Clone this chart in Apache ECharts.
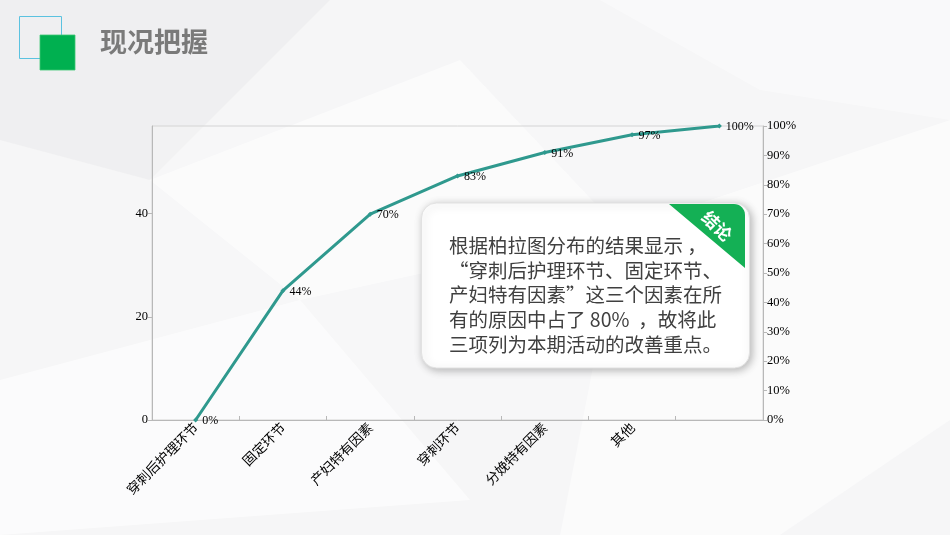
<!DOCTYPE html>
<html>
<head>
<meta charset="utf-8">
<script src="https://cdn.jsdelivr.net/npm/echarts/dist/echarts.min.js"></script>
<style>
  html, body { margin: 0; padding: 0; background: #f6f6f7; }
  #main { width: 950px; height: 535px; }
</style>
</head>
<body>
<div id="main"></div>
<script>
// 柏拉图数据
const categories = ['穿刺后护理环节', '固定环节', '产妇特有因素', '穿刺环节', '分娩特有因素', '其他', ''];
const cumulativePct = [0, 44, 70, 83, 91, 97, 100];
const countMax = 57;
const countTicks = [0, 20, 40];
const titleText = '现况把握';
const noteTitle = '结论';
const noteLines = [
  '根据柏拉图分布的结果显示 ，',
  '“穿刺后护理环节、固定环节、',
  '产妇特有因素”这三个因素在所',
  '有的原因中占了 80%  ，故将此',
  '三项列为本期活动的改善重点。'
];

const numFont = '"Liberation Serif", "DejaVu Serif", serif';
const cjkFont = '"Noto Sans CJK SC", sans-serif';

// 圆角处绿色角标的多边形
function ribbonPoints() {
  let pts = [[669, 204], [734, 204]];
  let cx = 734, cy = 215, r = 11;
  for (let i = 1; i < 8; i++) {
    let a = -Math.PI / 2 + (Math.PI / 2) * i / 8;
    pts.push([cx + r * Math.cos(a), cy + r * Math.sin(a)]);
  }
  pts.push([745, 215], [745, 268]);
  return pts;
}

let noteText = noteLines.map(function (line, i) {
  return {
    type: 'text',
    z: 102,
    left: 449,
    top: 236 + i * 24.6,
    style: {
      text: line,
      font: '19.5px ' + cjkFont,
      fill: '#404040'
    }
  };
});

let myChart = echarts.init(document.getElementById('main'));
let option = {
  animation: false,
  backgroundColor: '#f6f6f7',
  grid: {
    left: 152,
    right: 187,
    top: 126,
    bottom: 115,
    show: true,
    borderColor: '#d4d4d4',
    borderWidth: 1,
    backgroundColor: 'rgba(255,255,255,0.2)'
  },
  xAxis: {
    type: 'category',
    data: categories,
    boundaryGap: true,
    axisLine: { lineStyle: { color: '#b8b8b8', width: 1 } },
    axisTick: { show: true, inside: true, length: 4, lineStyle: { color: '#b8b8b8' } },
    axisLabel: {
      rotate: 45,
      interval: 0,
      margin: 5,
      fontFamily: cjkFont,
      fontSize: 13.5,
      color: '#000'
    }
  },
  yAxis: [
    {
      type: 'value',
      min: 0,
      max: countMax,
      interval: 20,
      position: 'left',
      splitLine: { show: false },
      axisLine: { show: true, lineStyle: { color: '#b8b8b8' } },
      axisTick: { show: true, length: 4, lineStyle: { color: '#b8b8b8' } },
      axisLabel: {
        margin: 4,
        fontFamily: numFont,
        fontSize: 12.5,
        color: '#000',
        showMaxLabel: false,
        formatter: function (v) { return countTicks.indexOf(v) >= 0 ? String(v) : ''; }
      }
    },
    {
      type: 'value',
      min: 0,
      max: 100,
      interval: 10,
      position: 'right',
      splitLine: { show: false },
      axisLine: { show: true, lineStyle: { color: '#b8b8b8' } },
      axisTick: { show: true, length: 4, lineStyle: { color: '#b8b8b8' } },
      axisLabel: {
        margin: 4,
        fontFamily: numFont,
        fontSize: 12.5,
        color: '#000',
        formatter: '{value}%'
      }
    }
  ],
  series: [
    {
      name: '累计百分比',
      type: 'line',
      yAxisIndex: 1,
      data: cumulativePct,
      symbol: 'diamond',
      symbolSize: 5,
      lineStyle: { color: '#2f998e', width: 3 },
      itemStyle: { color: '#2f998e' },
      label: {
        show: true,
        position: 'right',
        distance: 4,
        offset: [0, 1],
        fontFamily: numFont,
        fontSize: 12,
        color: '#000',
        formatter: '{c}%'
      },
      z: 5
    }
  ],
  graphic: [
    // 背景浅色折面
    { type: 'polygon', z: -10, shape: { points: [[0, 0], [330, 0], [150, 180], [0, 140]] }, style: { fill: 'rgba(235,235,237,0.6)' } },
    { type: 'polygon', z: -10, shape: { points: [[150, 180], [460, 60], [620, 230], [300, 300]] }, style: { fill: 'rgba(255,255,255,0.55)' } },
    { type: 'polygon', z: -10, shape: { points: [[0, 380], [300, 300], [470, 500], [0, 535]] }, style: { fill: 'rgba(255,255,255,0.6)' } },
    { type: 'polygon', z: -10, shape: { points: [[620, 230], [950, 120], [950, 420], [780, 535], [560, 535]] }, style: { fill: 'rgba(255,255,255,0.5)' } },
    { type: 'polygon', z: -10, shape: { points: [[600, 0], [950, 0], [950, 120], [760, 90]] }, style: { fill: 'rgba(255,255,255,0.4)' } },
    // 标题图标
    { type: 'rect', z: 50, shape: { x: 19.5, y: 16.5, width: 42, height: 42 }, style: { fill: 'none', stroke: '#5bc2e0', lineWidth: 1 } },
    { type: 'rect', z: 51, shape: { x: 40, y: 35, width: 35, height: 35 }, style: { fill: '#00b050', stroke: '#3cc873', lineWidth: 0.8 } },
    {
      type: 'text', z: 52, left: 100, top: 28,
      style: { text: titleText, font: 'bold 27px ' + cjkFont, fill: '#7a7a7a' }
    },
    // 结论框
    {
      type: 'rect', z: 100,
      shape: { x: 421.5, y: 203, width: 328, height: 165, r: 15 },
      style: {
        fill: '#ffffff',
        stroke: '#e2e2e2',
        lineWidth: 1,
        shadowBlur: 8,
        shadowColor: 'rgba(0,0,0,0.28)',
        shadowOffsetX: 2,
        shadowOffsetY: 2
      }
    },
    { type: 'polygon', z: 101, shape: { points: ribbonPoints() }, style: { fill: '#14b055' } },
    {
      type: 'text', z: 103, x: 717, y: 226, rotation: -Math.PI / 4,
      style: { text: noteTitle, font: 'bold 17px ' + cjkFont, fill: '#ffffff', align: 'center', verticalAlign: 'middle' }
    }
  ].concat(noteText)
};
option && myChart.setOption(option);
</script>
</body>
</html>
